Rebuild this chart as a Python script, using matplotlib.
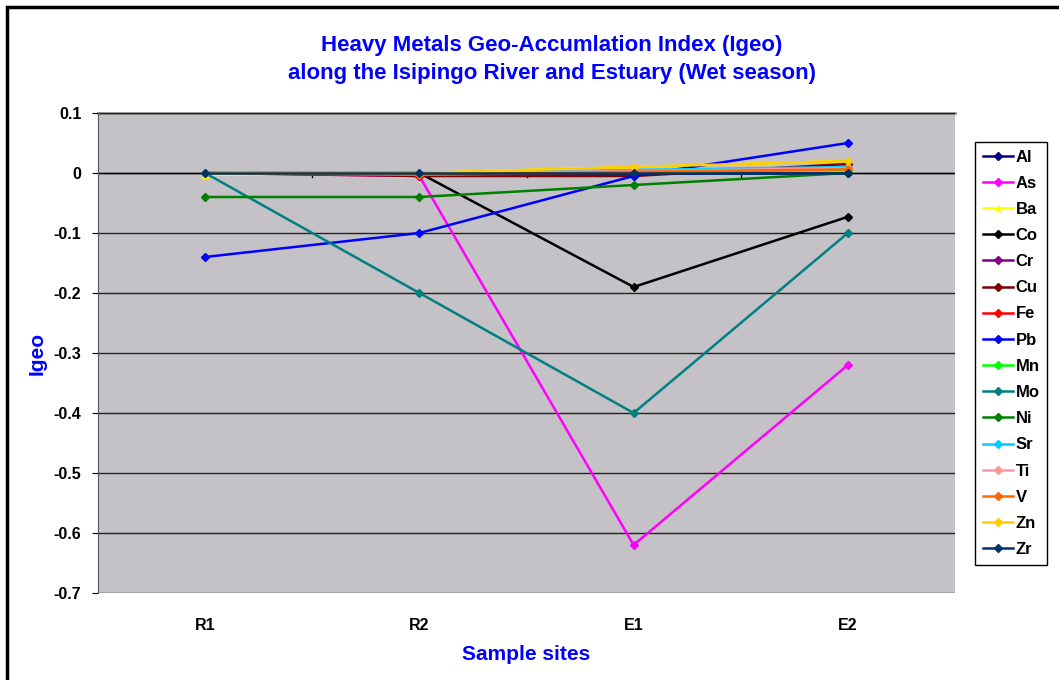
import numpy as np
import matplotlib; matplotlib.use("Agg"); import matplotlib.pyplot as plt
from matplotlib.patches import Rectangle

plt.rcParams["font.family"] = ["Liberation Sans", "DejaVu Sans"]

# ---- Igeo values ----
sites = ["R1", "R2", "E1", "E2"]
metals = ["Al", "As", "Ba", "Co", "Cr", "Cu", "Fe", "Pb", "Mn", "Mo", "Ni", "Sr", "Ti", "V", "Zn", "Zr"]
al = [0.0, 0.0, 0.0, 0.0]
as_ = [0.0, -0.005, -0.62, -0.32]
ba = [-0.003, 0.0, 0.01, 0.02]
co = [0.0, 0.0, -0.19, -0.073]
cr = [0.0, 0.0, 0.003, 0.01]
cu = [0.0, -0.005, -0.005, 0.015]
fe = [0.0, -0.003, 0.0, 0.01]
pb = [-0.14, -0.1, -0.005, 0.05]
mn = [0.0, 0.0, 0.002, 0.005]
mo = [0.0, -0.2, -0.4, -0.1]
ni = [-0.04, -0.04, -0.02, 0.0]
sr = [0.0, 0.0, 0.005, 0.01]
ti = [0.0, 0.0, 0.003, 0.008]
v = [0.0, -0.003, 0.002, 0.006]
zn = [0.0, 0.0, 0.01, 0.02]
zr = [0.0, 0.0, 0.0, 0.0]
values = [al, as_, ba, co, cr, cu, fe, pb, mn, mo, ni, sr, ti, v, zn, zr]

COLORS = ["#000080", "#FF00FF", "#FFFF00", "#000000", "#800080", "#800000", "#FF0000", "#0000FF",
          "#00FF00", "#008080", "#008000", "#00CCFF", "#FF9999", "#FF6600", "#FFCC00", "#003366"]
BLUE = "#0000FF"

fig = plt.figure(figsize=(10.59, 6.80), dpi=100)
W, H = 1059, 680
# outer chart frame
fig.patches.append(Rectangle((7/W, -0.1), 1.2, 1 - 7/H + 0.1, transform=fig.transFigure,
                             fill=False, ec="black", lw=2.5))
ax = fig.add_axes([98/W, 1 - 593/H, (955 - 98)/W, (593 - 113)/H])
ax.set_facecolor("#C4C2C6")

x = np.arange(len(sites))
for name, vals, col in zip(metals, values, COLORS):
    mk = "^" if name == "Ba" else "D"
    ax.plot(x, vals, color=col, lw=1.8, marker=mk, ms=4 if mk == "D" else 5,
            mec=col, mfc=col, label=name, zorder=3)

ax.set_xlim(-0.5, 3.5)
ax.set_ylim(-0.7, 0.1)
ax.set_yticks(np.arange(-0.7, 0.11, 0.1))
ax.set_yticklabels(["-0.7", "-0.6", "-0.5", "-0.4", "-0.3", "-0.2", "-0.1", "0", "0.1"])
ax.yaxis.grid(True, color="#222222", lw=1.0)
ax.set_axisbelow(True)
ax.axhline(0, color="black", lw=1.0, zorder=1)
for b in [0.5, 1.5, 2.5]:
    ax.plot([b, b], [0, -0.006], color="black", lw=1.0, zorder=1)
ax.set_xticks(x)
ax.set_xticklabels(sites)
ax.tick_params(axis="x", length=0, pad=18, labelsize=11.5)
ax.tick_params(axis="y", length=4, pad=8, labelsize=11.5)
for lab in ax.get_xticklabels() + ax.get_yticklabels():
    lab.set_fontweight("bold")
for s in ["top", "right", "bottom"]:
    ax.spines[s].set_visible(False)
ax.spines["left"].set_color("#555555")
ax.plot([-0.5, 3.5], [0.1, 0.1], color="#909090", lw=2, clip_on=False, zorder=0)

ax.set_ylabel("Igeo", color=BLUE, fontsize=15, fontweight="bold", labelpad=5)
ax.set_xlabel("Sample sites", color=BLUE, fontsize=15, fontweight="bold", labelpad=9)
fig.text(552/W, 1 - 45/H, "Heavy Metals Geo-Accumlation Index (Igeo)", color=BLUE,
         fontsize=16, fontweight="bold", ha="center", va="center")
fig.text(552/W, 1 - 73/H, "along the Isipingo River and Estuary (Wet season)", color=BLUE,
         fontsize=16, fontweight="bold", ha="center", va="center")

leg = fig.legend(loc="upper left", bbox_to_anchor=(975/W, 1 - 142/H), borderaxespad=0,
                 fancybox=False, edgecolor="black", framealpha=1, handlelength=1.8,
                 handletextpad=0.2, labelspacing=0.67, prop={"weight": "bold", "size": 12},
                 borderpad=0.45)
leg.get_frame().set_linewidth(1.0)

fig.savefig("out.png", dpi=100)
